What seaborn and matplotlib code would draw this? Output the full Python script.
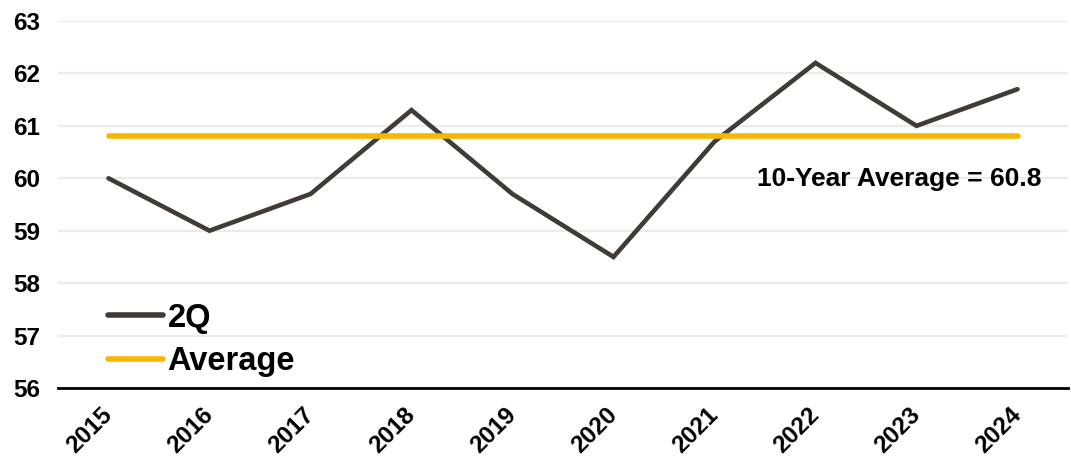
import matplotlib
matplotlib.use("Agg")
import matplotlib.pyplot as plt
import seaborn as sns
import pandas as pd

years = ["2015", "2016", "2017", "2018", "2019", "2020", "2021", "2022", "2023", "2024"]
q2_values = [60.0, 59.0, 59.7, 61.3, 59.7, 58.5, 60.7, 62.2, 61.0, 61.7]
ten_year_avg = 60.8

y_ticks = [56, 57, 58, 59, 60, 61, 62, 63]

sns.set_theme(style="white")
plt.rcParams["font.family"] = ["Liberation Sans", "DejaVu Sans"]
plt.rcParams["font.weight"] = "bold"
plt.rcParams["text.color"] = "black"
plt.rcParams["xtick.color"] = "black"
plt.rcParams["ytick.color"] = "black"

dark = "#403b37"
gold = "#f5b800"

df = pd.DataFrame({
    "year": years * 2,
    "value": q2_values + [ten_year_avg] * len(years),
    "series": ["2Q"] * len(years) + ["Average"] * len(years),
})

fig = plt.figure(figsize=(10.71, 4.57), dpi=100)
ax = fig.add_axes([58 / 1071, 1 - 388 / 457, 1010 / 1071, 367 / 457])

sns.lineplot(data=df, x="year", y="value", hue="series",
             palette={"2Q": dark, "Average": gold}, ax=ax, sort=False,
             legend=True)
ax.lines[0].set_linewidth(3.3)
ax.lines[0].set_solid_capstyle("round")
ax.lines[0].set_solid_joinstyle("miter")
ax.lines[1].set_linewidth(4.0)
ax.lines[1].set_solid_capstyle("round")

ax.set_xlim(-0.5, len(years) - 0.5)
ax.set_ylim(y_ticks[0], y_ticks[-1])
ax.set_yticks(y_ticks)
ax.yaxis.grid(True, color="#ebebeb", linewidth=1.6)
ax.xaxis.grid(False)
ax.set_axisbelow(True)

for side in ["top", "right", "left"]:
    ax.spines[side].set_visible(False)
ax.spines["bottom"].set_color("black")
ax.spines["bottom"].set_linewidth(2.0)

ax.set_xlabel("")
ax.set_ylabel("")
ax.tick_params(axis="y", length=0, pad=13, labelsize=17.5)
ax.tick_params(axis="x", length=0, pad=16.5, labelsize=17.5)
for lab in ax.get_yticklabels():
    lab.set_fontweight("bold")
for lab in ax.get_xticklabels():
    lab.set_rotation(45)
    lab.set_fontweight("bold")
    lab.set_horizontalalignment("right")
    lab.set_verticalalignment("center")
    lab.set_rotation_mode("anchor")

ax.text(9.24, ten_year_avg - 0.82,
        f"10-Year Average = {ten_year_avg:.1f}",
        ha="right", va="center", fontsize=19, fontweight="bold", color="black")

handles, labels = ax.get_legend_handles_labels()
for h in handles:
    h.set_linewidth(4)
    h.set_solid_capstyle("round")
ax.legend(handles, labels, loc="lower left", bbox_to_anchor=(0.0495, 0.03),
          frameon=False, prop={"size": 23.5, "weight": "bold"},
          handlelength=1.7, handletextpad=0.12, labelspacing=0.38,
          borderaxespad=0, borderpad=0)

fig.savefig("out.png", dpi=100)
